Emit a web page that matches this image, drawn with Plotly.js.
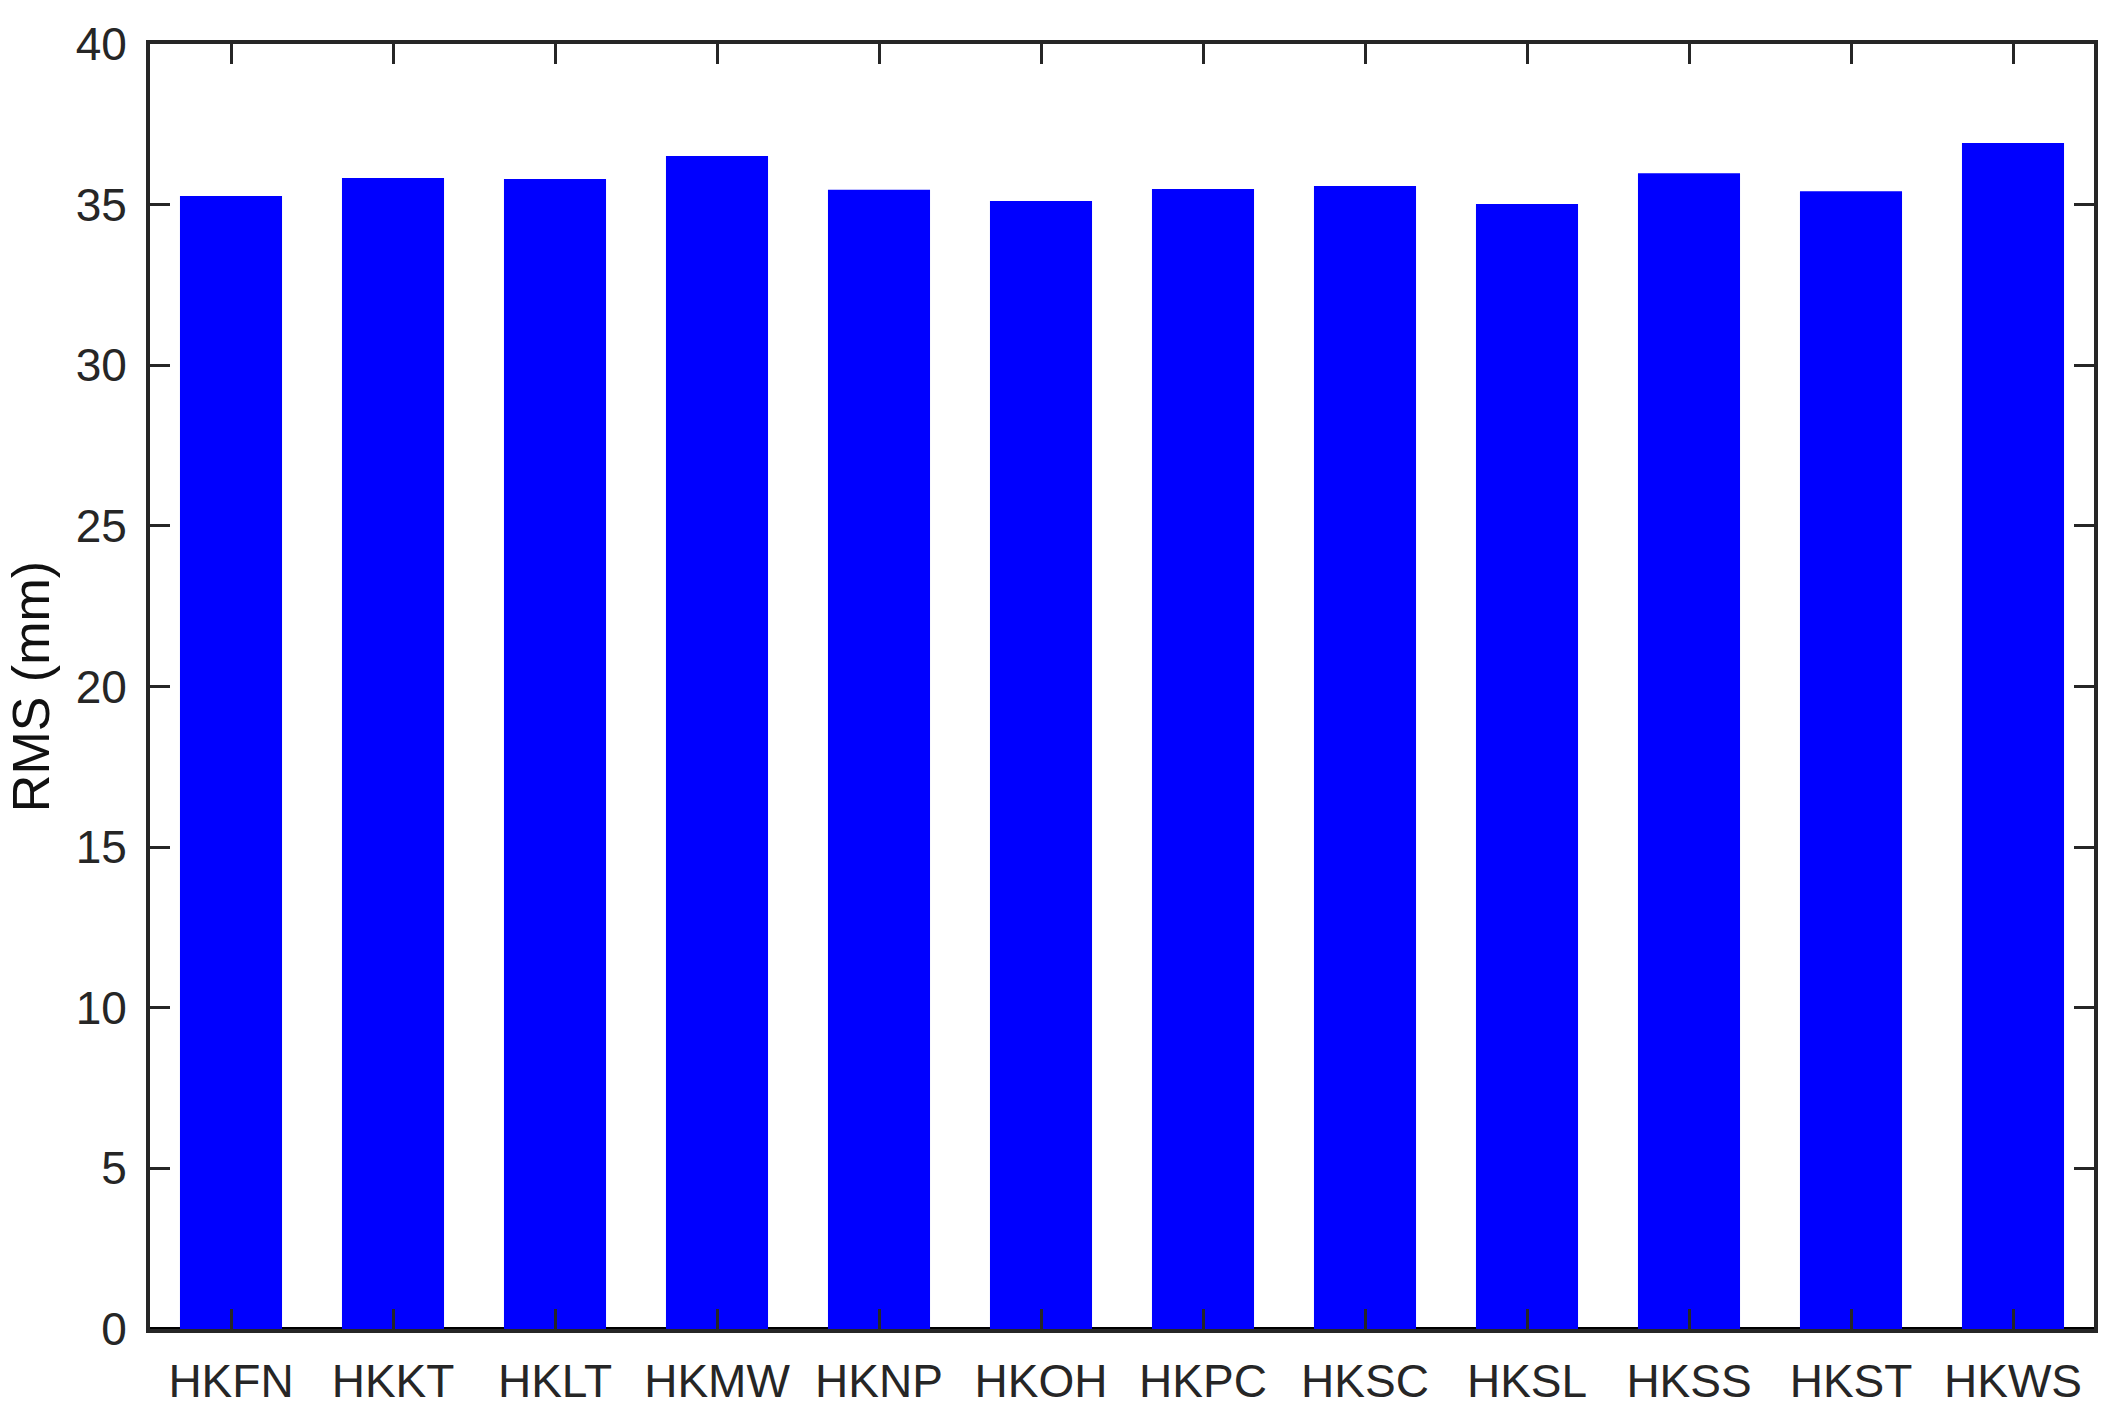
<!DOCTYPE html>
<html>
<head>
<meta charset="utf-8">
<script src="https://cdn.plot.ly/plotly-3.0.1.min.js"></script>
<style>
  html, body { margin: 0; padding: 0; background: #fff; }
  #chart { width: 2114px; height: 1419px; }
</style>
</head>
<body>
<div id="chart"></div>
<script>
// station names and RMS values (mm)
var stations = ['HKFN', 'HKKT', 'HKLT', 'HKMW', 'HKNP', 'HKOH',
                'HKPC', 'HKSC', 'HKSL', 'HKSS', 'HKST', 'HKWS'];
var rms = [35.27, 35.83, 35.80, 36.51, 35.46, 35.11,
           35.49, 35.58, 35.02, 35.98, 35.42, 36.92];
var yTicks = [0, 5, 10, 15, 20, 25, 30, 35, 40];

var axisColor = '#262626';
var fontFamily = '"Liberation Sans", Arial, Helvetica, sans-serif';

var trace = {
  x: stations,
  y: rms,
  type: 'bar',
  width: 0.63,
  marker: { color: '#0000ff', line: { width: 0 } },
  hoverinfo: 'x+y'
};

var layout = {
  width: 2114,
  height: 1419,
  margin: { l: 150, r: 20, t: 44, b: 90 },
  paper_bgcolor: '#ffffff',
  plot_bgcolor: '#ffffff',
  showlegend: false,
  font: { family: fontFamily, size: 46, color: axisColor },
  xaxis: {
    type: 'category',
    range: [-0.5, 11.5],
    showline: true,
    linecolor: axisColor,
    linewidth: 4,
    mirror: 'ticks',
    ticks: 'inside',
    ticklen: 20,
    tickwidth: 3,
    tickcolor: axisColor,
    ticklabelstandoff: 9,
    showgrid: false,
    zeroline: false,
    tickfont: { family: fontFamily, size: 46, color: axisColor }
  },
  yaxis: {
    range: [0, 40],
    tickvals: yTicks,
    showline: true,
    linecolor: axisColor,
    linewidth: 4,
    mirror: 'ticks',
    ticks: 'inside',
    ticklen: 20,
    tickwidth: 3,
    tickcolor: axisColor,
    ticklabelstandoff: 10,
    showgrid: false,
    zeroline: true,
    zerolinecolor: '#000000',
    zerolinewidth: 4,
    tickfont: { family: fontFamily, size: 46, color: axisColor },
    title: {
      text: 'RMS (mm)',
      font: { family: fontFamily, size: 52, color: '#111111' },
      standoff: 10
    }
  }
};

Plotly.newPlot('chart', [trace], layout, { displayModeBar: false, staticPlot: true });
</script>
</body>
</html>
